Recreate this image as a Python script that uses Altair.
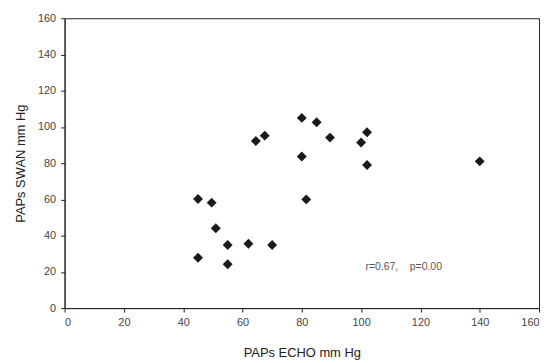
import altair as alt
import pandas as pd

echo = [80, 85, 67.5, 64.5, 89.5, 102, 100, 80, 102, 140, 81.5, 45, 49.6, 51, 55, 62, 70, 45, 55]
swan = [105, 102.6, 95.2, 92.2, 94.1, 97.1, 91.4, 83.7, 79, 81, 60, 60.2, 58.2, 44.1, 34.8, 35.5, 34.8, 27.8, 24.2]
ticks = [0, 20, 40, 60, 80, 100, 120, 140, 160]
note_text = ["r=0.67,\u00a0\u00a0\u00a0\u00a0p=0.00"]
note_x = [101.5]
note_y = [22.7]

df = pd.DataFrame({"echo": echo, "swan": swan})
note = pd.DataFrame({"x": note_x, "y": note_y, "t": note_text})

xs = alt.Scale(domain=[0, 160], nice=False, zero=False)
ys = alt.Scale(domain=[0, 160], nice=False, zero=False)
xa = alt.Axis(values=ticks, title="PAPs ECHO mm Hg", grid=False, titlePadding=19, labelOverlap=False)
ya = alt.Axis(values=ticks, title="PAPs SWAN mm Hg", grid=False, titlePadding=10, labelOverlap=False)

points = alt.Chart(df).mark_point(shape="diamond", filled=True, size=100, color="#1a1a1a", opacity=1).encode(
    x=alt.X("echo:Q", scale=xs, axis=xa),
    y=alt.Y("swan:Q", scale=ys, axis=ya),
)

text = alt.Chart(note).mark_text(align="left", baseline="middle", fontSize=10.5, color="#555555",
                                 font="Liberation Sans").encode(
    x=alt.X("x:Q", scale=xs, axis=xa), y=alt.Y("y:Q", scale=ys, axis=ya), text="t:N")

chart = (points + text).properties(
    width=478, height=292,
    autosize=alt.AutoSizeParams(type="none"),
    padding={"left": 57, "top": 9, "right": 6, "bottom": 53},
).configure_view(
    stroke="#222222", strokeWidth=1
).configure_axis(
    domainColor="#222222", tickColor="#222222", tickSize=4, labelFont="Liberation Sans",
    labelFontSize=11, labelColor="#444444", titleFont="Liberation Sans", titleFontSize=13,
    titleFontWeight="normal", titleColor="#222222", labelPadding=5
)

chart.save("out.html", embed_options={"renderer": "svg", "actions": False})
